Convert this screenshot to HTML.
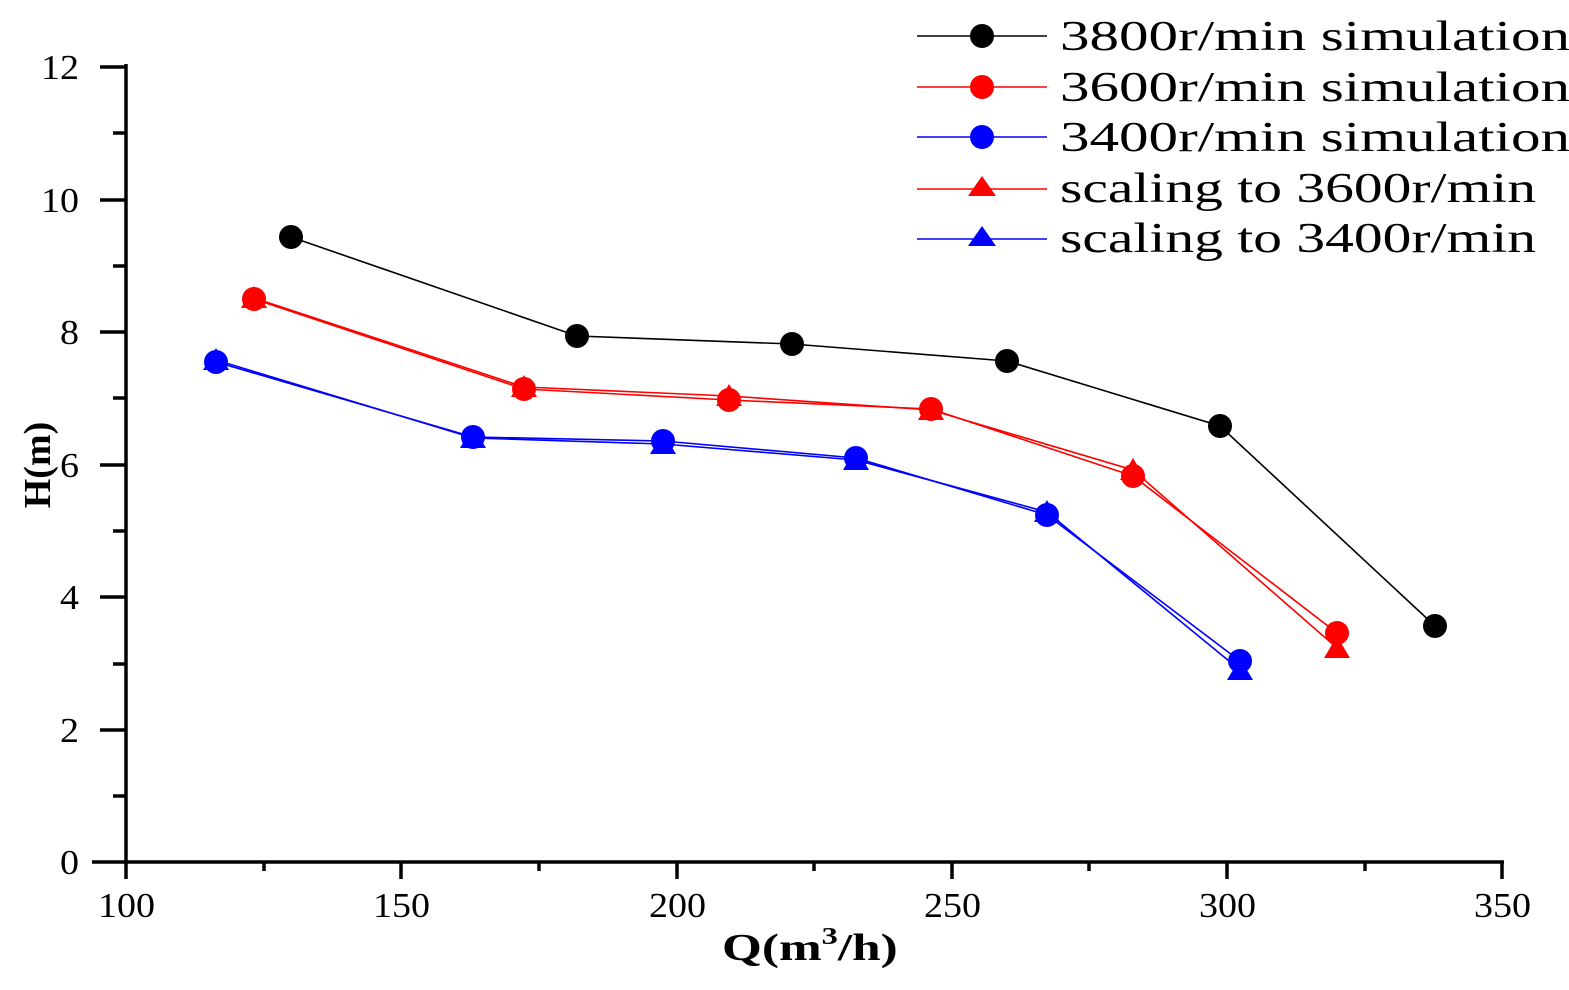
<!DOCTYPE html>
<html><head><meta charset="utf-8"><style>html,body{margin:0;padding:0;background:#fff}</style></head>
<body>
<svg width="1569" height="985" viewBox="0 0 1569 985" xmlns="http://www.w3.org/2000/svg" font-family="Liberation Serif, serif">
<g stroke="#000" stroke-width="3.5">
<line x1="126" y1="64" x2="126" y2="864"/>
<line x1="92" y1="862" x2="1504" y2="862"/>
<line x1="126" y1="862" x2="126" y2="879"/>
<line x1="401" y1="862" x2="401" y2="879"/>
<line x1="677" y1="862" x2="677" y2="879"/>
<line x1="952" y1="862" x2="952" y2="879"/>
<line x1="1227" y1="862" x2="1227" y2="879"/>
<line x1="1502" y1="862" x2="1502" y2="879"/>
<line x1="264" y1="862" x2="264" y2="871"/>
<line x1="539" y1="862" x2="539" y2="871"/>
<line x1="814" y1="862" x2="814" y2="871"/>
<line x1="1089" y1="862" x2="1089" y2="871"/>
<line x1="1365" y1="862" x2="1365" y2="871"/>
<line x1="100" y1="67" x2="126" y2="67"/>
<line x1="100" y1="200" x2="126" y2="200"/>
<line x1="100" y1="332" x2="126" y2="332"/>
<line x1="100" y1="465" x2="126" y2="465"/>
<line x1="100" y1="597" x2="126" y2="597"/>
<line x1="100" y1="730" x2="126" y2="730"/>
<line x1="113" y1="133" x2="126" y2="133"/>
<line x1="113" y1="266" x2="126" y2="266"/>
<line x1="113" y1="398" x2="126" y2="398"/>
<line x1="113" y1="531" x2="126" y2="531"/>
<line x1="113" y1="664" x2="126" y2="664"/>
<line x1="113" y1="796" x2="126" y2="796"/>
</g>
<g font-size="35">
<text x="60" y="874" textLength="19" lengthAdjust="spacingAndGlyphs">0</text>
<text x="60" y="742" textLength="19" lengthAdjust="spacingAndGlyphs">2</text>
<text x="60" y="609" textLength="19" lengthAdjust="spacingAndGlyphs">4</text>
<text x="60" y="477" textLength="19" lengthAdjust="spacingAndGlyphs">6</text>
<text x="60" y="344" textLength="19" lengthAdjust="spacingAndGlyphs">8</text>
<text x="41" y="212" textLength="38" lengthAdjust="spacingAndGlyphs">10</text>
<text x="41" y="79" textLength="38" lengthAdjust="spacingAndGlyphs">12</text>
</g>
<g font-size="35">
<text x="98" y="917" textLength="57" lengthAdjust="spacingAndGlyphs">100</text>
<text x="373" y="917" textLength="57" lengthAdjust="spacingAndGlyphs">150</text>
<text x="649" y="917" textLength="57" lengthAdjust="spacingAndGlyphs">200</text>
<text x="924" y="917" textLength="57" lengthAdjust="spacingAndGlyphs">250</text>
<text x="1199" y="917" textLength="57" lengthAdjust="spacingAndGlyphs">300</text>
<text x="1474" y="917" textLength="57" lengthAdjust="spacingAndGlyphs">350</text>
</g>
<text x="722" y="960" font-size="38" font-weight="bold" transform="translate(722,0) scale(1.35,1) translate(-722,0)">Q(m<tspan font-size="24" dy="-16">3</tspan><tspan dy="16">/h)</tspan></text>
<text transform="translate(50,465) rotate(-90)" font-size="38" font-weight="bold" text-anchor="middle">H(m)</text>
<g fill="none" stroke-width="1.6">
<polyline stroke="#000" points="291,237 577,336 792,344 1007,361 1220,426 1435,626"/>
<polyline stroke="#f00" points="254,299 524,389 729,400 931,409 1133,476 1337,633"/>
<polyline stroke="#f00" points="254,298 524,387 729,396 931,410 1133,470 1337,648"/>
<polyline stroke="#00f" points="216,362 473,437 663,441 856,458 1047,515 1240,661"/>
<polyline stroke="#00f" points="216,360 473,438 663,444 856,460 1047,512 1240,670"/>
</g>
<g fill="#000"><circle cx="291" cy="237" r="12"/><circle cx="577" cy="336" r="12"/><circle cx="792" cy="344" r="12"/><circle cx="1007" cy="361" r="12"/><circle cx="1220" cy="426" r="12"/><circle cx="1435" cy="626" r="12"/></g>
<g fill="#f00"><circle cx="254" cy="299" r="12"/><circle cx="524" cy="389" r="12"/><circle cx="729" cy="400" r="12"/><circle cx="931" cy="409" r="12"/><circle cx="1133" cy="476" r="12"/><circle cx="1337" cy="633" r="12"/></g>
<g fill="#f00">
<polygon points="254,286 241,308 267,308"/><polygon points="524,375 511,397 537,397"/><polygon points="729,384 716,406 742,406"/><polygon points="931,398 918,420 944,420"/><polygon points="1133,458 1120,480 1146,480"/><polygon points="1337,636 1324,658 1350,658"/>
</g>
<g fill="#00f"><circle cx="216" cy="362" r="12"/><circle cx="473" cy="437" r="12"/><circle cx="663" cy="441" r="12"/><circle cx="856" cy="458" r="12"/><circle cx="1047" cy="515" r="12"/><circle cx="1240" cy="661" r="12"/></g>
<g fill="#00f">
<polygon points="216,348 203,370 229,370"/><polygon points="473,426 460,448 486,448"/><polygon points="663,432 650,454 676,454"/><polygon points="856,448 843,470 869,470"/><polygon points="1047,500 1034,522 1060,522"/><polygon points="1240,658 1227,680 1253,680"/>
</g>
<g stroke-width="1.6">
<line x1="917" y1="36" x2="1047" y2="36" stroke="#000"/>
<line x1="917" y1="87" x2="1047" y2="87" stroke="#f00"/>
<line x1="917" y1="137" x2="1047" y2="137" stroke="#00f"/>
<line x1="917" y1="189" x2="1047" y2="189" stroke="#f00"/>
<line x1="917" y1="239" x2="1047" y2="239" stroke="#00f"/>
</g>
<circle cx="982" cy="36" r="12" fill="#000"/>
<circle cx="982" cy="87" r="12" fill="#f00"/>
<circle cx="982" cy="137" r="12" fill="#00f"/>
<polygon points="982,176 968,196 996,196" fill="#f00"/>
<polygon points="982,226 968,246 996,246" fill="#00f"/>
<g font-size="42">
<text x="1060" y="50" textLength="510" lengthAdjust="spacingAndGlyphs">3800r/min simulation</text>
<text x="1060" y="101" textLength="510" lengthAdjust="spacingAndGlyphs">3600r/min simulation</text>
<text x="1060" y="151" textLength="510" lengthAdjust="spacingAndGlyphs">3400r/min simulation</text>
<text x="1060" y="202" textLength="476" lengthAdjust="spacingAndGlyphs">scaling to 3600r/min</text>
<text x="1060" y="252" textLength="476" lengthAdjust="spacingAndGlyphs">scaling to 3400r/min</text>
</g>
</svg>
</body></html>
